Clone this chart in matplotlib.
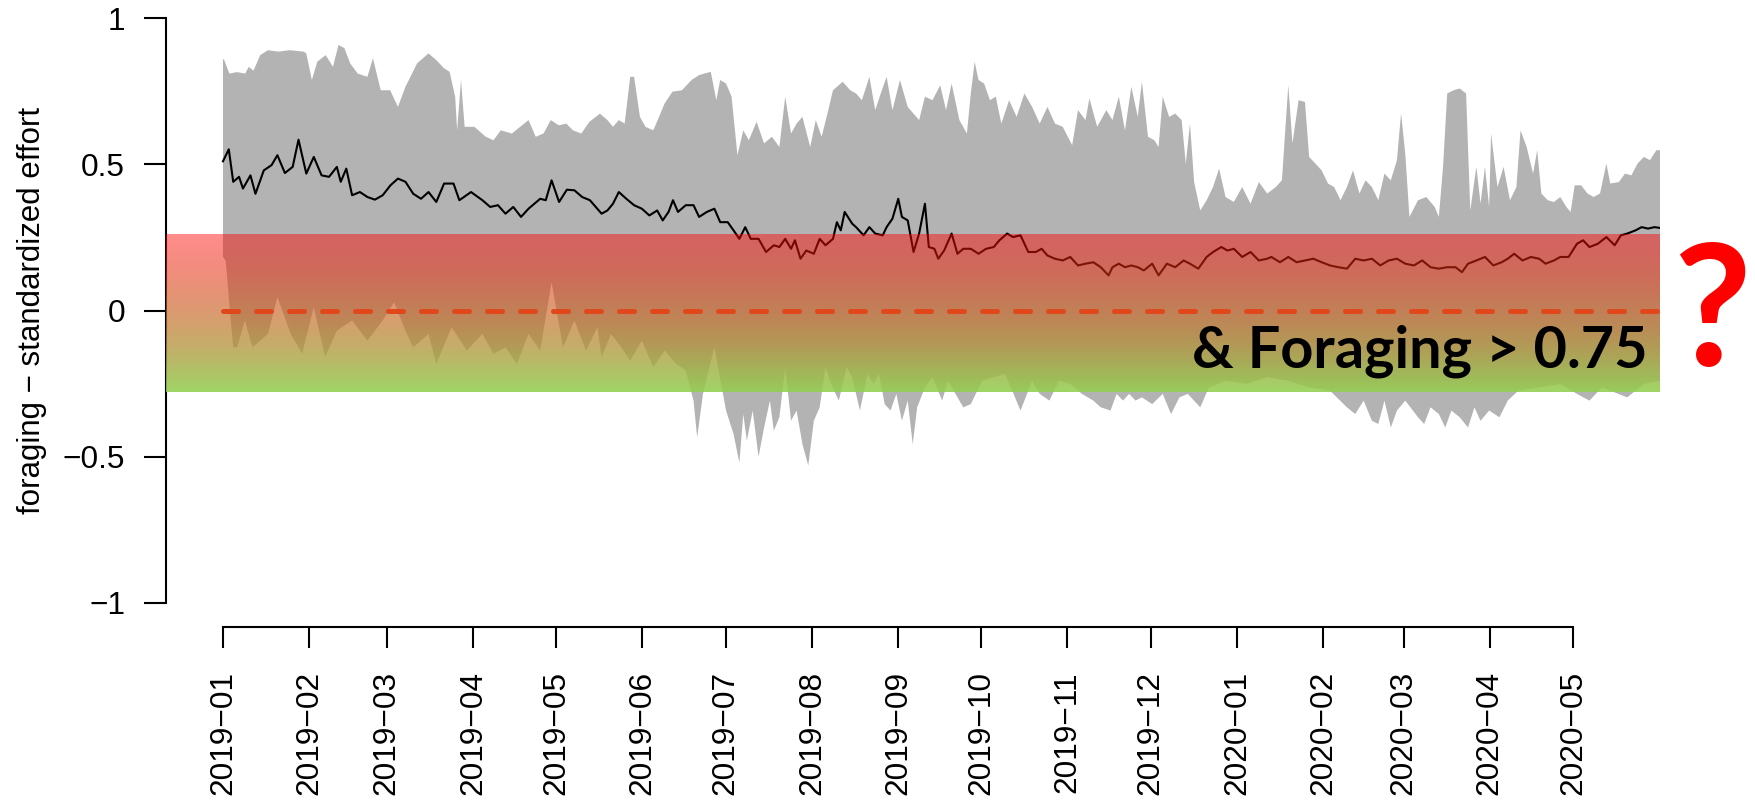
import numpy as np
import pandas as pd
import matplotlib
matplotlib.use("Agg")
import matplotlib.pyplot as plt
import matplotlib.dates as mdates

# days since 2019-01-01
upper_day = [0, 0.3, 2.3, 5, 8, 9.3, 11, 13.4, 16.2, 20, 24, 29, 30, 32, 34, 37, 39.6, 41.6, 43.7, 45.8,
             48.5, 52, 54, 56.8, 60.2, 63, 65.7, 69.9, 74, 76.8, 79.6, 81.6, 83.6, 84.3, 85.7, 87, 90.5,
             94.6, 97.4, 100, 104, 107, 110, 112.6, 115.4, 118, 120.9, 123.6, 126, 129, 131.9, 135.7,
             138.4, 140.4, 142.5, 144.6, 146.6, 148, 150.1, 152.1, 154.9, 157, 159, 161.8, 165.2, 168.7,
             171.4, 175.6, 177.6, 179, 181.1, 183.1, 185.2, 187.3, 189.3, 192.1, 194.8, 197.6, 200.3,
             202.4, 204.5, 206.5, 208.6, 211.4, 213.4, 215.5, 217.6, 219.6, 223.1, 225.8, 227.9, 230,
             232.7, 234.8, 236.8, 238.9, 241, 243.7, 246.5, 248.6, 250.6, 252.7, 255.4, 258.2, 260.3,
             262.3, 265.1, 267.8, 269.2, 270.6, 272, 274, 276.1, 278.2, 280.2, 283, 285.7, 288.5, 291.3,
             294, 296.8, 299.5, 302.3, 305.7, 307.8, 310.5, 311.9, 314.7, 318, 320.2, 322.5, 324.7, 327,
             329.3, 330.8, 333, 335.3, 336.8, 338.3, 340.6, 342.8, 345.1, 346.6, 348.1, 349.6, 351.8,
             354.1, 356.4, 358.6, 360.9, 363.9, 366.9, 369.9, 372.9, 375.9, 379, 381.2, 383.5, 385,
             387.2, 389.5, 391, 393.3, 395.5, 397.8, 400, 402.3, 404.6, 406.8, 409.1, 411.3, 413.6,
             415.9, 418.1, 420.4, 422.6, 424.1, 425.6, 427.1, 430.2, 433.2, 436.2, 437.7, 439.2, 440.7,
             443, 445.2, 447.5, 449, 451.2, 452.7, 454.3, 455.8, 456.5, 458.8, 461, 463.3, 465.6, 467.1,
             469.3, 471.6, 473.1, 474.6, 476.9, 479.1, 481.4, 483.6, 485.1, 486.6, 488.9, 491.2, 493.4,
             495.7, 498, 499.4, 502.5, 504.7, 507, 509.2, 511.5, 513.7, 516, 517.5]
upper_val = [0.856, 0.86, 0.81, 0.815, 0.81, 0.833, 0.82, 0.873, 0.89, 0.885, 0.89, 0.885, 0.879, 0.788,
             0.851, 0.873, 0.833, 0.908, 0.897, 0.845, 0.81, 0.799, 0.862, 0.753, 0.753, 0.696, 0.765,
             0.845, 0.879, 0.856, 0.828, 0.816, 0.73, 0.616, 0.788, 0.628, 0.628, 0.594, 0.582, 0.616,
             0.605, 0.628, 0.651, 0.594, 0.605, 0.651, 0.633, 0.639, 0.616, 0.605, 0.645, 0.673,
             0.651, 0.628, 0.651, 0.639, 0.799, 0.799, 0.662, 0.628, 0.616, 0.662, 0.708, 0.748, 0.753,
             0.788, 0.805, 0.816, 0.719, 0.788, 0.776, 0.731, 0.531, 0.616, 0.582, 0.645, 0.571, 0.594,
             0.559, 0.731, 0.605, 0.639, 0.662, 0.559, 0.651, 0.594, 0.673, 0.753, 0.782, 0.753, 0.742,
             0.719, 0.799, 0.685, 0.742, 0.799, 0.685, 0.788, 0.696, 0.673, 0.651, 0.731, 0.719, 0.77,
             0.685, 0.776, 0.651, 0.605, 0.742, 0.85, 0.788, 0.776, 0.719, 0.731, 0.639, 0.719, 0.662,
             0.742, 0.696, 0.639, 0.696, 0.639, 0.628, 0.565, 0.685, 0.651, 0.725, 0.628, 0.685, 0.651,
             0.731, 0.616, 0.765, 0.662, 0.782, 0.594, 0.582, 0.559, 0.731, 0.662, 0.673, 0.651, 0.502,
             0.639, 0.439, 0.342, 0.377, 0.422, 0.485, 0.388, 0.371, 0.422, 0.365, 0.439, 0.4, 0.422,
             0.445, 0.77, 0.571, 0.719, 0.713, 0.525, 0.502, 0.479, 0.434, 0.422, 0.377, 0.422, 0.479,
             0.4, 0.445, 0.422, 0.377, 0.468, 0.445, 0.514, 0.674, 0.536, 0.32, 0.377, 0.388, 0.354,
             0.32, 0.491, 0.742, 0.753, 0.759, 0.742, 0.342, 0.491, 0.365, 0.491, 0.354, 0.605, 0.422,
             0.491, 0.377, 0.422, 0.616, 0.559, 0.468, 0.548, 0.4, 0.377, 0.371, 0.388, 0.354, 0.337,
             0.428, 0.428, 0.4, 0.388, 0.4, 0.502, 0.434, 0.439, 0.468, 0.462, 0.502, 0.525, 0.514,
             0.548, 0.548]

lower_day = [0, 1, 2.5, 3.7, 5.1, 7.9, 10.6, 16.2, 19.6, 24.4, 28.5, 32.7, 36.8, 41, 46.5, 52, 57.5,
             61.6, 65.7, 68.5, 74, 76.8, 82.3, 87.8, 93.4, 97.4, 101.7, 105.8, 110, 114.2, 118.3, 122.4,
             126.5, 130.7, 134.8, 136.3, 139.7, 142.5, 146.6, 150.8, 154.9, 159, 163.2, 166.6, 169.4,
             170.7, 172.8, 176.9, 181.1, 183.8, 185.9, 187.3, 188.6, 190.7, 192.8, 194.8, 196.9, 198.3,
             200.3, 202.4, 204.5, 206.5, 208.6, 210.7, 212.7, 214.8, 216.9, 218.9, 221.7, 224.5, 226.5,
             229.3, 232, 234.1, 236.2, 238.2, 240.3, 242.4, 244.4, 246.5, 248.3, 249.9, 252.7, 255.4,
             258.9, 261, 263.7, 266.5, 269.2, 273.3, 277.5, 281.6, 287.1, 291.3, 294, 297.5, 300.9, 305,
             309.2, 313.3, 316, 319.5, 321.7, 324, 326.2, 328.5, 330.8, 334.5, 338.3, 341.3, 344.3,
             347.3, 351.8, 354.9, 360.9, 368.4, 375.9, 383.5, 391, 398.5, 404.6, 407.6, 410.6, 413.6,
             415.9, 418.1, 420.4, 422.6, 425.6, 430.2, 432.4, 434.7, 437.7, 440, 442.2, 445.2, 448.2,
             450.5, 452.7, 455.8, 459.5, 462.5, 466.3, 473.8, 481.4, 487.4, 491.9, 496.4, 505.5, 511.5,
             517.5]
lower_val = [0.183, 0.17, 0.0, -0.126, -0.126, -0.034, -0.126, -0.08, 0.046, -0.08, -0.148, 0.011, -0.16,
             -0.069, -0.034, -0.103, -0.034, 0.028, -0.069, -0.126, -0.08, -0.183, -0.057, -0.137, -0.08,
             -0.148, -0.126, -0.183, -0.08, -0.137, 0.097, -0.126, -0.034, -0.137, -0.057, -0.16, -0.08,
             -0.114, -0.171, -0.103, -0.194, -0.137, -0.183, -0.205, -0.308, -0.434, -0.285, -0.126,
             -0.342, -0.422, -0.52, -0.354, -0.445, -0.342, -0.5, -0.4, -0.308, -0.411, -0.365, -0.194,
             -0.377, -0.342, -0.457, -0.53, -0.377, -0.331, -0.194, -0.251, -0.308, -0.194, -0.228,
             -0.342, -0.217, -0.251, -0.217, -0.32, -0.342, -0.285, -0.377, -0.308, -0.457, -0.331,
             -0.263, -0.228, -0.308, -0.24, -0.285, -0.331, -0.32, -0.24, -0.228, -0.217, -0.342, -0.24,
             -0.285, -0.308, -0.24, -0.251, -0.285, -0.308, -0.331, -0.342, -0.285, -0.308, -0.285,
             -0.308, -0.297, -0.32, -0.285, -0.354, -0.297, -0.285, -0.331, -0.263, -0.24, -0.251,
             -0.228, -0.24, -0.263, -0.274, -0.331, -0.354, -0.308, -0.377, -0.388, -0.308, -0.4, -0.342,
             -0.308, -0.365, -0.388, -0.331, -0.354, -0.4, -0.342, -0.365, -0.4, -0.331, -0.377, -0.342,
             -0.365, -0.308, -0.274, -0.263, -0.251, -0.285, -0.308, -0.263, -0.297, -0.251, -0.24]

mean_day = [0, 2.1, 3.7, 5.8, 7.2, 9.9, 11.7, 14.7, 17.5, 19.6, 22.3, 25.1, 27.2, 30, 32.7, 35.5, 38.2,
            41, 42.4, 44.4, 46.5, 49.3, 52, 54.7, 57.5, 60.3, 63, 65.7, 68.5, 71.3, 74, 76.8, 79.6, 83,
            85.1, 89.3, 93.4, 96.2, 99, 101.7, 104.5, 107.3, 110, 114.2, 116.2, 118.3, 121, 123.8, 126.5,
            129.3, 132.1, 136.3, 138.4, 140.4, 142.5, 145.2, 148, 150.8, 153.5, 156.3, 158.3, 160.4, 162,
            163.8, 166.6, 169.4, 171.4, 174.2, 176.9, 179, 181.7, 183.8, 185.9, 188, 190, 192.8, 195.5,
            198.3, 200.3, 202.4, 204.5, 205.9, 207.9, 210, 212.7, 214.8, 216.9, 219.6, 221, 222.4, 223.8,
            226.5, 227.9, 230.6, 232.7, 234.8, 237.5, 238.9, 241, 243.1, 244.4, 246.5, 248.6, 250.6,
            252.7, 254.1, 256.1, 257.5, 259.6, 262.3, 264.4, 266.5, 269.2, 272, 274.7, 277.5, 279.5,
            282.3, 284.4, 287.1, 289.9, 292.6, 294.7, 296.8, 299.5, 302.3, 305, 307.8, 310.5, 313.3, 316,
            318.8, 320.2, 322.5, 324.7, 327, 329.3, 331.5, 334.5, 336.8, 339.8, 342.8, 345.8, 348.1,
            351.1, 354.1, 356.4, 359.4, 361.6, 363.9, 366.9, 369.9, 372.9, 375.9, 377.4, 380.5, 383.5,
            386.5, 389.5, 392.5, 395.5, 398.5, 401.5, 404.6, 407.6, 410.6, 413.6, 416.6, 419.6, 422.6,
            425.6, 428.7, 431.7, 434.7, 437.7, 440.7, 443.7, 446, 448.2, 451.2, 454.3, 457.3, 460.3,
            462.5, 464.8, 467.8, 470.8, 473.8, 476.1, 479.1, 481.4, 484.4, 487.4, 489.6, 491.9, 494.9,
            498, 501, 503.2, 505.5, 508.5, 510.7, 513, 515.3, 517.5]
mean_val = [0.51, 0.551, 0.44, 0.457, 0.417, 0.462, 0.399, 0.479, 0.497, 0.531, 0.47, 0.491, 0.584, 0.468,
            0.525, 0.462, 0.457, 0.491, 0.44, 0.485, 0.394, 0.405, 0.388, 0.379, 0.394, 0.428, 0.451,
            0.44, 0.399, 0.382, 0.405, 0.371, 0.434, 0.434, 0.377, 0.405, 0.377, 0.354, 0.36, 0.331,
            0.354, 0.32, 0.348, 0.382, 0.377, 0.445, 0.371, 0.413, 0.411, 0.388, 0.377, 0.331, 0.342,
            0.365, 0.405, 0.382, 0.36, 0.348, 0.325, 0.342, 0.308, 0.337, 0.377, 0.337, 0.36, 0.36, 0.32,
            0.337, 0.348, 0.302, 0.302, 0.274, 0.245, 0.285, 0.245, 0.245, 0.2, 0.223, 0.217, 0.245,
            0.211, 0.24, 0.177, 0.205, 0.194, 0.245, 0.223, 0.245, 0.302, 0.274, 0.337, 0.297, 0.285,
            0.257, 0.285, 0.263, 0.257, 0.285, 0.314, 0.382, 0.32, 0.308, 0.2, 0.263, 0.365, 0.217,
            0.211, 0.177, 0.205, 0.263, 0.194, 0.211, 0.211, 0.194, 0.211, 0.217, 0.24, 0.263, 0.251,
            0.257, 0.2, 0.2, 0.211, 0.188, 0.177, 0.171, 0.183, 0.154, 0.16, 0.165, 0.148, 0.12, 0.148,
            0.16, 0.148, 0.154, 0.148, 0.137, 0.16, 0.12, 0.16, 0.148, 0.171, 0.16, 0.143, 0.183, 0.2,
            0.217, 0.205, 0.211, 0.183, 0.2, 0.171, 0.177, 0.183, 0.165, 0.183, 0.165, 0.171, 0.177,
            0.165, 0.154, 0.148, 0.143, 0.177, 0.171, 0.177, 0.154, 0.171, 0.177, 0.16, 0.154, 0.171,
            0.148, 0.143, 0.148, 0.148, 0.131, 0.16, 0.171, 0.183, 0.154, 0.165, 0.177, 0.194, 0.171,
            0.183, 0.177, 0.16, 0.171, 0.183, 0.183, 0.228, 0.24, 0.217, 0.228, 0.251, 0.223, 0.257,
            0.263, 0.274, 0.285, 0.28, 0.285, 0.282]

month_ticks = pd.date_range("2019-01-01", "2020-05-01", freq="MS")
threshold_text = "& Foraging > 0.75"
band_low, band_high = -0.28, 0.26

W, H = 1756, 807
start = pd.Timestamp("2019-01-01")


def as_num(days):
    return mdates.date2num(start + pd.to_timedelta(np.asarray(days, dtype=float), unit="D"))


plt.rcParams["font.family"] = ["Liberation Sans", "DejaVu Sans"]
fig = plt.figure(figsize=(W / 100, H / 100), dpi=100)
# axes box placed in pixels to match the R layout
ax = fig.add_axes([166 / W, 1 - 603 / H, (1660 - 166) / W, (603 - 18) / H])

x_left, x_right = as_num(-20.5), as_num(517.3)

# grey band as one polygon: upper edge forward, lower edge back
poly_x = np.concatenate([as_num(upper_day), as_num(lower_day)[::-1]])
poly_y = np.concatenate([upper_val, lower_val[::-1]])
ax.fill(poly_x, poly_y, color="#B3B3B3", lw=0, zorder=1)
ax.plot(as_num(mean_day), mean_val, color="black", lw=1.5, zorder=2)

# red-to-green translucent overlay
n = 256
t = np.linspace(0, 1, n)[:, None]
top = np.array([1.0, 0.0, 0.0, 0.45])
bot = np.array([0.573, 0.816, 0.314, 0.88])
grad = (1 - t) * top + t * bot
grad = np.repeat(grad[:, None, :], 2, axis=1)
ax.imshow(grad, extent=[x_left, x_right, band_low, band_high], aspect="auto",
          origin="upper", interpolation="bilinear", zorder=3)

dash, = ax.plot([as_num(0)[()], x_right], [0, 0], color="#E0471B", lw=3.6,
                solid_capstyle="round", dash_capstyle="round", zorder=4)
dash.set_dashes([3.0, 3.6])

ax.set_xlim(x_left, x_right)
ax.set_ylim(-1, 1)

for s in ["top", "right"]:
    ax.spines[s].set_visible(False)
ax.spines["left"].set_bounds(-1, 1)
ax.spines["bottom"].set_position(("outward", 17.3))
ax.spines["bottom"].set_bounds(mdates.date2num(month_ticks[0]), mdates.date2num(month_ticks[-1]))
for s in ["left", "bottom"]:
    ax.spines[s].set_linewidth(1.5)

ax.set_yticks([-1, -0.5, 0, 0.5, 1])
ax.set_yticklabels(["\u22121", "\u22120.5", "0", "0.5", "1"])
ax.set_xticks(mdates.date2num(month_ticks))
ax.set_xticklabels([d.strftime("%Y\u2212%m") for d in month_ticks], rotation=90, va="top")
ax.tick_params(axis="y", length=15.8, width=1.5, pad=13.7, labelsize=22.8)
ax.tick_params(axis="x", length=15.1, width=1.5, pad=16.6, labelsize=22.8)

fig.text(32 / W, 1 - 310 / H, "foraging \u2212 standardized effort", rotation=90,
         ha="center", va="center", fontsize=22.5)

# annotations pasted on top of the chart
fig.text(1648 / W, 1 - 368 / H, threshold_text, ha="right", va="baseline",
         fontsize=41.5, fontweight="bold", family="Lato", color="black")
fig.text(1712 / W, 1 - 366 / H, "?", ha="center", va="baseline",
         fontsize=122, fontweight="bold", family="Lato", color="#FF0000")

fig.savefig("out.png", dpi=100)
